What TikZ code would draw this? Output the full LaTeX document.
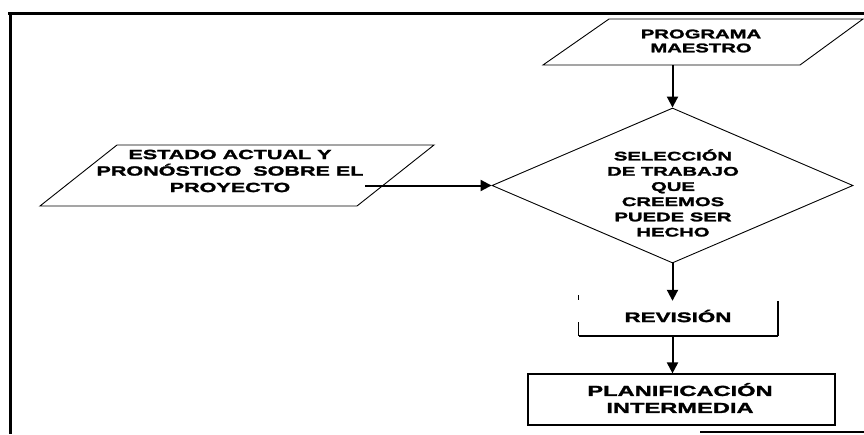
\documentclass[tikz,border=0pt]{standalone}
\usepackage{fontspec}
\newfontfamily\flowfont[FakeStretch=1.62,FakeBold=2]{Liberation Sans Bold}
\usetikzlibrary{arrows.meta,shapes.geometric}
\begin{document}
\begin{tikzpicture}[x=1pt,y=-1pt,
  outline/.style={line width=0.9pt},
  frame/.style={line width=3pt},
  flow/.style={line width=2pt,-{Triangle[length=11pt,width=11pt]}},
  lbl/.style 2 args={font=\flowfont\fontsize{#1}{#2}\selectfont,
                     align=center, inner sep=0pt},
]
\useasboundingbox (0,0) rectangle (864,434);

% page frame
\draw[frame] (8,13.5) -- (864,13.5);
\draw[frame] (10.5,12) -- (10.5,434);
\draw[line width=2.5pt] (700,432) -- (864,432);

% input: master programme
\draw[outline] (609,19) -- (863,19) -- (800,65) -- (543,65) -- cycle;
\node[lbl={12.5}{14}] (pm) at (701,41) {PROGRAMA\\MAESTRO};
\coordinate (pm-out) at (672.5,65);

% input: current state of the project
\draw[outline] (117,145) -- (434,145) -- (357,206) -- (40,206) -- cycle;
\node[lbl={13.3}{16.5}] (est) at (230,171) {ESTADO ACTUAL Y\\PRONÓSTICO\ \ SOBRE EL\\PROYECTO};
\coordinate (est-out) at (365,185.5);

% decision
\node[draw, outline, diamond, minimum width=361pt, minimum height=155pt,
      inner sep=0pt] (sel) at (672.5,185.5) {};
\node[lbl={12.5}{15.2}] (sel-t) at (673,193)
  {SELECCIÓN\\DE TRABAJO\\QUE\\CREEMOS\\PUEDE SER\\HECHO};

% review
\node[minimum width=199pt, minimum height=35pt, inner sep=0pt] (rev) at (678.5,318.5) {};
\node[lbl={13.8}{16}] (rev-t) at (678,316) {REVISIÓN};
\draw[line width=1.5pt] (rev.north east) -- (rev.south east);
\draw[line width=2pt] (rev.south east) -- (rev.south west);
\draw[line width=0.8pt] (rev.south west) -- ++(0,-14);
\draw[line width=0.8pt] (rev.north west) ++(0,-1) -- ++(0,-5);

% intermediate planning
\node[draw, line width=1.2pt, minimum width=307pt, minimum height=51pt,
      inner sep=0pt] (plan) at (681.5,399.5) {};
\node[lbl={14.6}{17}] (plan-t) at (680,398) {PLANIFICACIÓN\\INTERMEDIA};

% connectors
\draw[flow] (pm-out) -- (sel.north);
\draw[flow] (est-out) -- (sel.west);
\draw[flow] (sel.south) -- (sel.south |- rev.north);
\draw[flow] (sel.south |- rev.south) -- (sel.south |- plan.north);
\end{tikzpicture}
\end{document}
